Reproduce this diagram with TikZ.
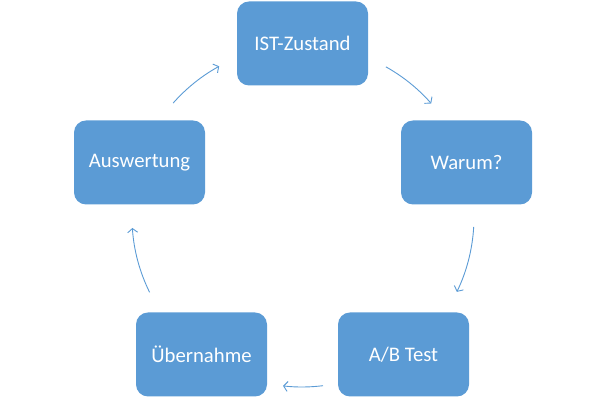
\documentclass[tikz,border=0pt]{standalone}
\usepackage{fontspec}
\setmainfont{Carlito}
\usetikzlibrary{arrows.meta}
\definecolor{boxblue}{HTML}{5B9BD5}
\definecolor{arrblue}{HTML}{5B9BD5}
\begin{document}
\begin{tikzpicture}[x=1pt,y=1pt,
  stepbox/.style={draw=none,fill=boxblue,rounded corners=12pt,minimum width=131pt,minimum height=84pt,inner sep=0pt,text=white,font=\fontsize{20.7}{24}\selectfont},
  cyc/.style={draw=arrblue,line width=0.9pt,-{Straight Barb[length=4pt,width=10pt]}}]
\useasboundingbox (0,0) rectangle (605,403);
\node[stepbox] (ist) at (302.5,359.5) {IST-Zustand};
\node[stepbox] (warum) at (466.5,240.5) {Warum?};
\node[stepbox] (ab) at (403.5,48.5) {A/B Test};
\node[stepbox] (ueber) at (201.5,48.5) {Übernahme};
\node[stepbox] (ausw) at (139.5,240.5) {Auswertung};
\coordinate (O) at (302,186);
\draw[cyc] ([shift={(138.5:172)}]O) arc[start angle=138.5,end angle=118.8,radius=172];
\draw[cyc] ([shift={(60.8:172)}]O) arc[start angle=60.8,end angle=41.3,radius=172];
\draw[cyc] ([shift={(-3.3:172)}]O) arc[start angle=-3.3,end angle=-25.8,radius=172];
\draw[cyc] ([shift={(-82.9:170)}]O) arc[start angle=-82.9,end angle=-96.4,radius=170];
\draw[cyc] ([shift={(206.3:170)}]O) arc[start angle=206.3,end angle=183.7,radius=170];
\end{tikzpicture}
\end{document}
